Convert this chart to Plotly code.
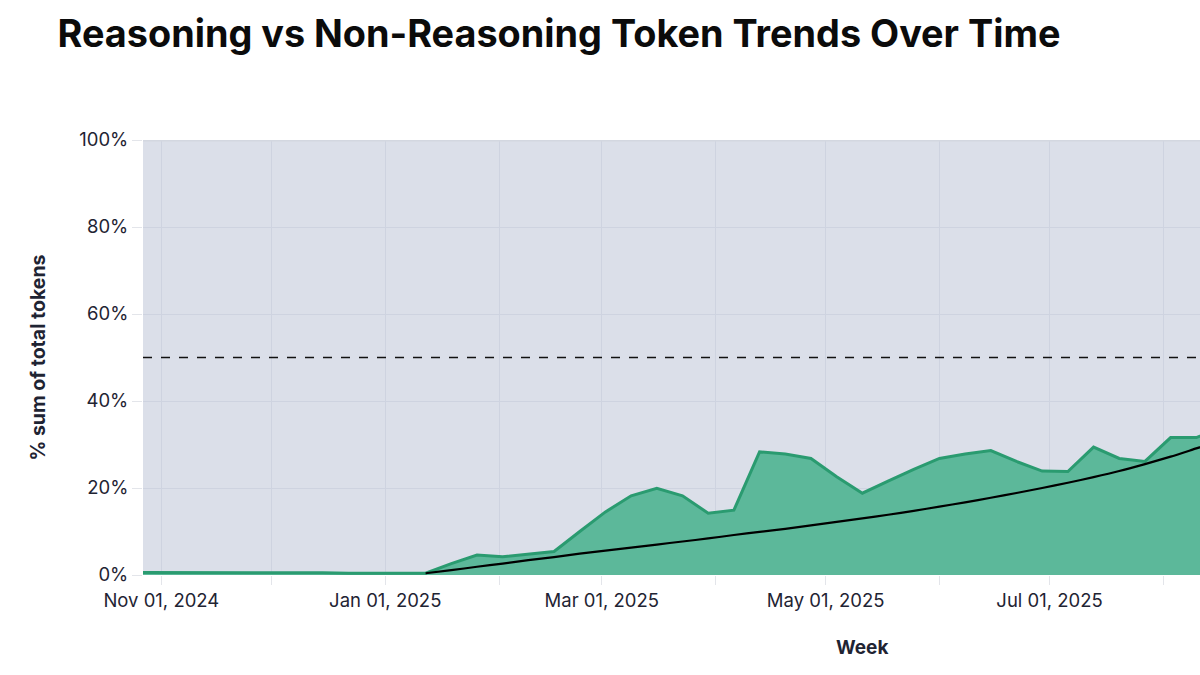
import plotly.graph_objects as go
import pandas as pd

weeks = pd.date_range("2024-10-27", periods=43, freq="7D").strftime("%Y-%m-%d").tolist()

reasoning_pct = [
    0.6, 0.6, 0.5, 0.5, 0.5, 0.5, 0.5, 0.5, 0.4, 0.4, 0.4,  # Oct 27 .. Jan 5
    0.4, 2.6, 4.6, 4.2, 4.8, 5.4, 10.0, 14.5, 18.2, 19.9,   # Jan 12 .. Mar 16
    18.2, 14.2, 14.9, 28.3, 27.8, 26.8, 22.6, 18.8, 21.6,   # Mar 23 .. May 18
    24.3, 26.8, 27.8, 28.6, 26.1, 23.9, 23.8, 29.4, 26.8,   # May 25 .. Jul 20
    26.1, 31.6, 31.6, 34.0,                                  # Jul 27 .. Aug 17
]
non_reasoning_pct = [round(100 - v, 1) for v in reasoning_pct]

trend_weeks = weeks[11:]
trend_pct = [
    0.4, 1.1, 1.9, 2.6, 3.4, 4.1, 4.9, 5.6, 6.3, 7.0, 7.7, 8.4, 9.2, 9.9,
    10.6, 11.4, 12.2, 13.0, 13.85, 14.75, 15.7, 16.7, 17.75, 18.85, 20.0,
    21.2, 22.5, 23.9, 25.5, 27.2, 29.1, 31.0,
]

y_ticks = [0, 20, 40, 60, 80, 100]
y_tick_labels = ["0%", "20%", "40%", "60%", "80%", "100%"]
threshold = 50

FONT = "Inter"
TXT = "#1f2433"

fig = go.Figure()
fig.add_trace(go.Scatter(
    x=weeks, y=reasoning_pct, stackgroup="one", mode="lines",
    line=dict(color="#2a9b70", width=3),
    fillcolor="#5cb89a", name="Reasoning",
))
fig.add_trace(go.Scatter(
    x=weeks, y=non_reasoning_pct, stackgroup="one", mode="lines",
    line=dict(color="#d3d7e0", width=3),
    fillcolor="rgba(190,197,215,0.55)", name="Non-Reasoning",
))
fig.add_trace(go.Scatter(
    x=trend_weeks, y=trend_pct, mode="lines",
    line=dict(color="#000000", width=2.2, shape="spline", smoothing=0.6), name="Trend",
))
fig.add_hline(y=threshold, line=dict(color="#111111", width=1.6, dash="dash"))

fig.add_annotation(
    text="<b>Week</b>", xref="paper", yref="paper", x=0.680, y=0,
    yshift=-72, showarrow=False, xanchor="center", yanchor="middle",
    font=dict(family=FONT, size=19, color=TXT),
)

fig.update_layout(
    width=1200, height=675,
    margin=dict(l=143, r=0, t=140, b=100),
    paper_bgcolor="white", plot_bgcolor="white",
    showlegend=False,
    title=dict(
        text="<b>Reasoning vs Non-Reasoning Token Trends Over Time</b>",
        x=0.048, xanchor="left", y=0.950, yanchor="middle",
        font=dict(family=FONT, size=37.8, color="#0b0b0b"),
    ),
    font=dict(family=FONT, color=TXT),
)
fig.update_xaxes(
    range=["2024-10-27", "2025-08-11"],
    tick0="2024-11-01", dtick="M2", tickformat="%b %d, %Y",
    ticks="outside", ticklen=9, tickcolor="#e3e5ea",
    showgrid=True, gridcolor="#e3e5ea", gridwidth=1,
    minor=dict(dtick="M1", showgrid=True, gridcolor="#e3e5ea",
               ticks="outside", ticklen=9, tickcolor="#e3e5ea"),
    tickfont=dict(family=FONT, size=18.5, color=TXT),
    showline=False, zeroline=False,
)
fig.update_yaxes(
    range=[0, 100], tickvals=y_ticks, ticktext=y_tick_labels,
    ticks="outside", ticklen=10, tickcolor="#e3e5ea",
    showgrid=True, gridcolor="#e3e5ea",
    tickfont=dict(family=FONT, size=18.5, color=TXT),
    title=dict(text="<b>% sum of total tokens</b>", font=dict(family=FONT, size=19.5, color=TXT), standoff=28),
    showline=False, zeroline=False,
)

fig.write_html("out.html")
